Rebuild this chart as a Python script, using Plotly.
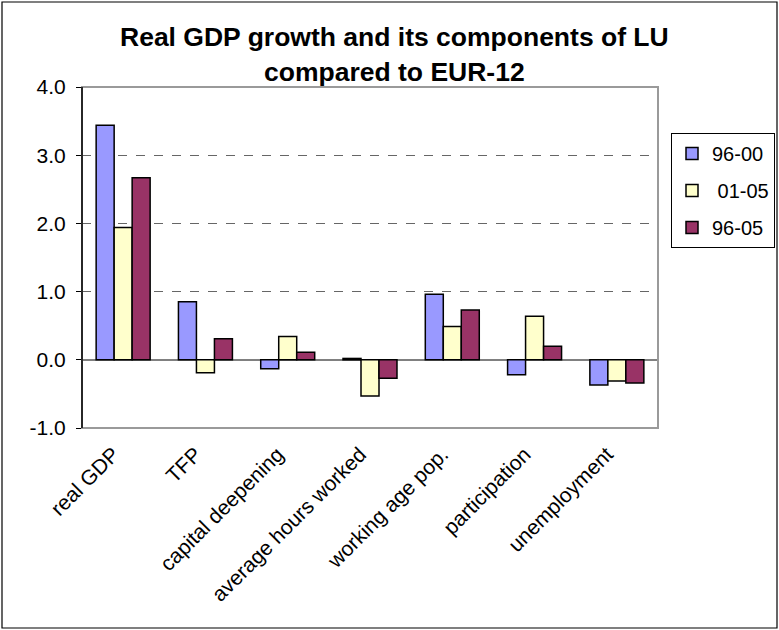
import plotly.graph_objects as go

# Components of real GDP growth, LU relative to EUR-12 (percentage points)
categories = ["real GDP", "TFP", "capital deepening", "average hours worked",
              "working age pop.", "participation", "unemployment"]
series_names = ["96-00", "\u00a001-05", "96-05"]
vals_96_00 = [3.44, 0.85, -0.13, 0.02, 0.96, -0.22, -0.37]
vals_01_05 = [1.94, -0.19, 0.34, -0.53, 0.49, 0.64, -0.31]
vals_96_05 = [2.67, 0.31, 0.11, -0.27, 0.73, 0.20, -0.34]
y_ticks = [-1.0, 0.0, 1.0, 2.0, 3.0, 4.0]
title_lines = ["Real GDP growth and its components of LU", "compared to EUR-12"]

colors = ["#9999FF", "#FFFFCC", "#993366"]
font_family = "Liberation Sans, Arial, sans-serif"

fig = go.Figure()
for i, (name, vals) in enumerate(zip(series_names, [vals_96_00, vals_01_05, vals_96_05])):
    fig.add_trace(go.Bar(
        x=categories, y=vals, name=name, legendgroup=str(i),
        marker=dict(color=colors[i], line=dict(color="black", width=1.5)),
    ))

# plot area in pixels: x 82..658, y 87..428
L, R, T, B = 82, 658, 87, 428
W, H = 779, 630
pw, ph = R - L, B - T

def px_x(x):
    return (x - L) / pw

def px_y(y):
    return (B - y) / ph

title_annotations = [
    dict(text=line, xref="paper", yref="paper", x=px_x(394.5), y=px_y(yc),
         xanchor="center", yanchor="middle", showarrow=False,
         font=dict(family=font_family, size=26.5, color="black", weight="bold"))
    for line, yc in zip(title_lines, [37, 72])
]

fig.update_layout(
    width=W, height=H,
    margin=dict(l=L, r=W - R, t=T, b=H - B, pad=0, autoexpand=False),
    paper_bgcolor="white", plot_bgcolor="white",
    font=dict(family=font_family, color="black", size=20),
    barmode="group", bargap=0.344, bargroupgap=0,
    showlegend=True,
    legend=dict(
        x=px_x(671), y=px_y(133), xanchor="left", yanchor="top",
        bordercolor="black", borderwidth=1, bgcolor="white",
        font=dict(size=20), itemwidth=30, tracegroupgap=8,
        traceorder="grouped",
    ),
    xaxis=dict(
        type="category", tickangle=-45, tickfont=dict(size=21),
        ticklabelshift=-10, ticklabelstandoff=9,
        showgrid=False, showline=False, zeroline=False, ticks="",
    ),
    yaxis=dict(
        range=[-1, 4], tickvals=y_ticks, ticktext=[f"{v:.1f}" for v in y_ticks],
        tickfont=dict(size=21), ticks="outside", ticklen=5, tickcolor="black",
        ticklabelstandoff=6,
        showgrid=True, gridcolor="#666666", griddash="dash", gridwidth=1,
        zeroline=True, zerolinecolor="#808080", zerolinewidth=1.5,
        showline=False,
    ),
    annotations=title_annotations,
    shapes=[
        # gray plot frame
        dict(type="rect", xref="paper", yref="paper", x0=0, x1=1, y0=0, y1=1,
             line=dict(color="#9a9a9a", width=2), layer="above"),
        # black value axis on the left
        dict(type="line", xref="paper", yref="paper", x0=0, x1=0, y0=0, y1=1,
             line=dict(color="black", width=1.5), layer="above"),
        # outer chart border
        dict(type="rect", xref="paper", yref="paper",
             x0=px_x(2), x1=px_x(777), y0=px_y(628), y1=px_y(2),
             line=dict(color="black", width=1.2), layer="above"),
    ],
)

fig.write_html("out.html")
